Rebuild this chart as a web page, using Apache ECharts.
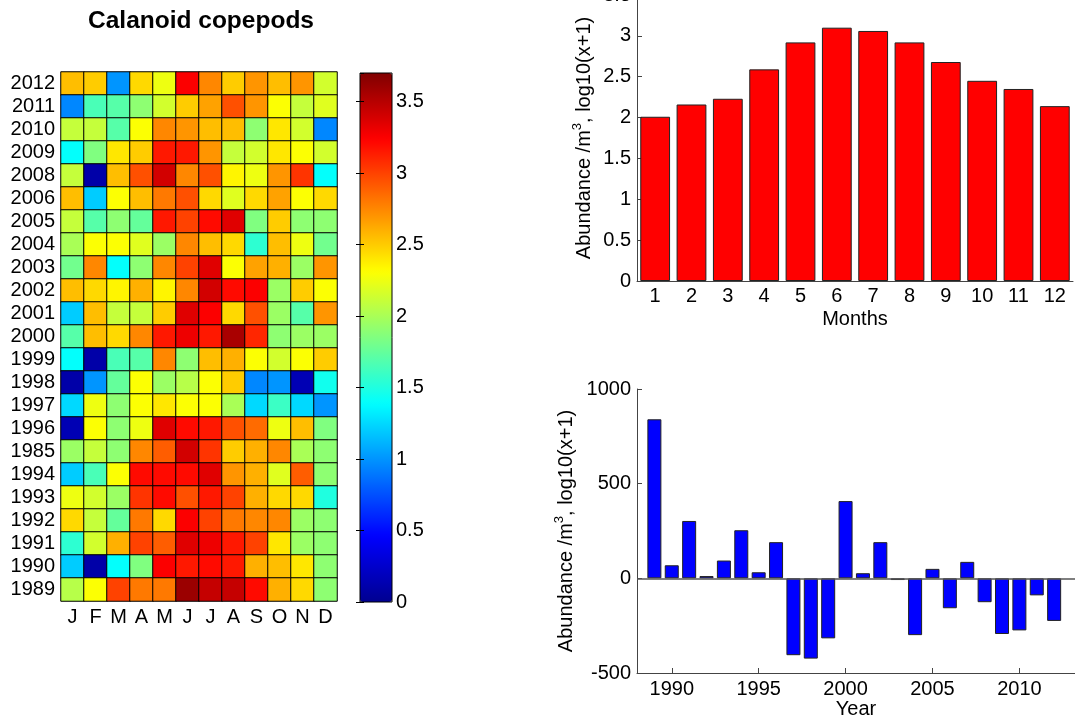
<!DOCTYPE html>
<html>
<head>
<meta charset="utf-8">
<title>Calanoid copepods</title>
<script src="https://cdn.jsdelivr.net/npm/echarts@6.0.0/dist/echarts.min.js"></script>
<style>
  html, body { margin: 0; padding: 0; background: #fff; }
  #main { width: 1075px; height: 721px; }
</style>
</head>
<body>
<div id="main"></div>
<script>
// heatmap rows, top to bottom as printed on the figure
var rowLabels = ['2012', '2011', '2010', '2009', '2008', '2006', '2005', '2004', '2003', '2002', '2001', '2000',
  '1999', '1998', '1997', '1996', '1985', '1994', '1993', '1992', '1991', '1990', '1989'];
var monthLetters = ['J', 'F', 'M', 'A', 'M', 'J', 'J', 'A', 'S', 'O', 'N', 'D'];

// log10(x+1) abundance, one row per year label above
var cellRows = [
  [2.55, 2.5, 1.0, 2.45, 2.25, 3.25, 2.75, 2.5, 2.7, 2.55, 2.7, 2.15],
  [0.95, 1.65, 1.7, 1.9, 2.15, 2.5, 2.65, 2.95, 2.7, 2.3, 2.1, 2.2],
  [2.1, 2.1, 1.7, 2.3, 2.75, 2.7, 2.55, 2.55, 1.9, 2.4, 2.15, 0.95],
  [1.4, 1.85, 2.4, 2.5, 3.15, 3.15, 2.7, 2.1, 2.15, 2.4, 2.3, 2.15],
  [2.1, 0.1, 2.55, 2.95, 3.4, 2.75, 2.95, 2.35, 2.25, 2.7, 3.05, 1.4],
  [2.55, 1.2, 2.3, 2.55, 2.8, 2.95, 2.45, 2.2, 2.45, 2.65, 2.3, 2.45],
  [2.1, 1.7, 1.9, 1.75, 3.15, 3.0, 3.2, 3.35, 1.85, 2.5, 1.9, 1.9],
  [2.0, 2.3, 2.3, 2.2, 1.95, 2.75, 2.55, 2.45, 1.55, 2.55, 2.25, 1.8],
  [1.8, 2.75, 1.4, 1.9, 2.75, 3.0, 3.35, 2.3, 2.65, 2.6, 1.95, 2.7],
  [2.55, 2.45, 2.35, 2.6, 2.35, 2.75, 3.4, 3.2, 3.25, 1.95, 2.5, 2.3],
  [1.2, 2.55, 2.1, 2.1, 2.5, 3.35, 3.25, 2.45, 2.95, 1.95, 1.7, 2.7],
  [1.7, 2.55, 2.45, 2.75, 3.15, 3.3, 3.15, 3.55, 3.1, 1.9, 1.95, 1.95],
  [1.4, 0.1, 1.65, 1.7, 2.75, 1.9, 2.55, 2.6, 2.3, 2.15, 2.3, 2.5],
  [0.1, 1.0, 1.75, 2.3, 1.95, 2.05, 2.3, 2.5, 0.95, 1.0, 0.15, 1.45],
  [1.25, 2.25, 1.9, 2.3, 2.4, 2.3, 2.3, 2.0, 1.25, 1.6, 1.25, 1.0],
  [0.15, 2.3, 1.9, 2.25, 3.35, 3.2, 3.15, 2.95, 2.85, 2.25, 2.55, 1.85],
  [1.95, 2.1, 1.9, 2.75, 2.9, 3.4, 3.05, 2.5, 2.6, 2.75, 2.0, 1.9],
  [1.2, 1.65, 2.3, 3.2, 3.2, 3.2, 3.35, 2.7, 2.6, 2.2, 2.9, 1.9],
  [2.25, 2.15, 1.95, 3.05, 3.2, 2.95, 3.15, 3.0, 2.6, 2.45, 2.45, 1.5],
  [2.45, 2.1, 1.75, 2.8, 2.45, 3.25, 3.0, 2.8, 2.75, 2.75, 1.95, 1.9],
  [1.55, 2.15, 2.6, 3.0, 2.9, 3.35, 3.3, 3.15, 3.0, 2.4, 1.95, 1.9],
  [1.2, 0.1, 1.4, 1.85, 3.25, 3.15, 3.2, 3.15, 2.6, 2.55, 2.4, 1.9],
  [2.05, 2.3, 3.0, 2.8, 2.8, 3.6, 3.45, 3.45, 3.2, 2.6, 2.45, 1.9]
];

// monthly mean (top right)
var monthNumbers = ['1', '2', '3', '4', '5', '6', '7', '8', '9', '10', '11', '12'];
var monthMeans = [2.01, 2.16, 2.23, 2.59, 2.92, 3.10, 3.06, 2.92, 2.68, 2.45, 2.35, 2.14];

// yearly anomaly (bottom right)
var years = [1989, 1990, 1991, 1992, 1993, 1994, 1995, 1996, 1997, 1998, 1999, 2000,
  2001, 2002, 2003, 2004, 2005, 2006, 2007, 2008, 2009, 2010, 2011, 2012];
var yearAnomaly = [840, 69, 303, 12, 94, 254, 32, 191, -406, -424, -317, 408,
  27, 191, -9, -300, 50, -158, 87, -126, -294, -275, -90, -225];

// matlab "jet"
var jet = ['#000090', '#0000ff', '#0080ff', '#00ffff', '#80ff80', '#ffff00', '#ff8000', '#ff0000', '#800000'];

var heatData = [];
cellRows.forEach(function (row, r) {
  row.forEach(function (v, c) { heatData.push([c, r, v]); });
});

var font = 'Liberation Sans, Arial, sans-serif';
var axisGrey = '#444';
var plain = function (v) { return String(v); };
var yName = '{t|Abundance /m}{s|3}{t|, log10(x+1)}';
var yNameStyle = {
  fontFamily: font, fontSize: 20, color: '#000',
  rich: {
    t: { fontFamily: font, fontSize: 20, color: '#000', lineHeight: 26 },
    s: { fontFamily: font, fontSize: 13, color: '#000', verticalAlign: 'top', lineHeight: 26 }
  }
};

var chart = echarts.init(document.getElementById('main'));

var option = {
  backgroundColor: '#fff',
  animation: false,
  textStyle: { fontFamily: font },
  title: {
    text: 'Calanoid copepods',
    left: 88, top: 9, padding: 0,
    textStyle: { fontFamily: font, fontSize: 24.5, fontWeight: 'bold', color: '#000' }
  },
  grid: [
    { left: 61, top: 72, width: 276, height: 529, outerBoundsMode: 'none' },
    { left: 360, top: 73, width: 32, height: 529, show: true, borderColor: '#000', borderWidth: 1,
      backgroundColor: 'transparent', z: 10, outerBoundsMode: 'none' },
    { left: 637, top: -5, width: 436, height: 286, outerBoundsMode: 'none' },
    { left: 637, top: 389, width: 438, height: 284, outerBoundsMode: 'none' }
  ],
  xAxis: [
    {
      gridIndex: 0, type: 'category', data: monthLetters,
      axisLine: { show: false }, axisTick: { show: false }, splitLine: { show: false },
      axisLabel: { color: '#000', fontSize: 20, margin: 6, interval: 0 }
    },
    { gridIndex: 1, type: 'value', min: 0, max: 1, show: false },
    {
      gridIndex: 2, type: 'category', data: monthNumbers,
      name: 'Months', nameLocation: 'middle', nameGap: 28,
      nameTextStyle: { fontFamily: font, fontSize: 20, color: '#000' },
      axisLine: { lineStyle: { color: axisGrey } },
      axisTick: { inside: true, alignWithLabel: true, length: 5, lineStyle: { color: axisGrey } },
      axisLabel: { color: '#000', fontSize: 20, margin: 5, interval: 0 }
    },
    {
      gridIndex: 3, type: 'value', min: 1988, max: 2013.2, splitNumber: 5,
      name: 'Year', nameLocation: 'middle', nameGap: 26,
      nameTextStyle: { fontFamily: font, fontSize: 20, color: '#000' },
      axisLine: { onZero: false, lineStyle: { color: axisGrey } },
      axisTick: { inside: true, length: 5, lineStyle: { color: axisGrey } },
      splitLine: { show: false },
      axisLabel: { color: '#000', fontSize: 20, margin: 6, showMinLabel: false, showMaxLabel: false,
        formatter: plain }
    }
  ],
  yAxis: [
    {
      gridIndex: 0, type: 'category', data: rowLabels, inverse: true,
      axisLine: { show: false }, axisTick: { show: false }, splitLine: { show: false },
      axisLabel: { color: '#000', fontSize: 20, margin: 6, interval: 0 }
    },
    {
      gridIndex: 1, type: 'value', position: 'right', min: 0, max: 3.7, interval: 0.5, z: 11,
      axisLine: { show: false },
      axisTick: { show: true, inside: true, length: 4, lineStyle: { color: '#000' } },
      splitLine: { show: false },
      axisLabel: { color: '#000', fontSize: 20, margin: 4, showMaxLabel: false, formatter: plain }
    },
    {
      gridIndex: 1, type: 'value', position: 'left', min: 0, max: 3.7, interval: 0.5, z: 11,
      axisLine: { show: false },
      axisTick: { show: true, inside: true, length: 4, lineStyle: { color: '#000' } },
      splitLine: { show: false },
      axisLabel: { show: false }
    },
    {
      gridIndex: 2, type: 'value', min: 0, max: 3.5, interval: 0.5,
      name: yName, nameLocation: 'middle', nameGap: 40, nameTextStyle: yNameStyle,
      axisLine: { show: true, lineStyle: { color: axisGrey } },
      axisTick: { show: true, inside: true, length: 5, lineStyle: { color: axisGrey } },
      splitLine: { show: false },
      axisLabel: { color: '#000', fontSize: 20, margin: 6, formatter: plain }
    },
    {
      gridIndex: 3, type: 'value', min: -500, max: 1000, interval: 500,
      name: yName, nameLocation: 'middle', nameGap: 58, nameTextStyle: yNameStyle,
      axisLine: { show: true, lineStyle: { color: axisGrey } },
      axisTick: { show: true, inside: true, length: 5, lineStyle: { color: axisGrey } },
      splitLine: { show: false },
      axisLabel: { color: '#000', fontSize: 20, margin: 6, formatter: plain }
    }
  ],
  visualMap: {
    type: 'continuous',
    seriesIndex: 0,
    min: 0, max: 3.7,
    calculable: false,
    orient: 'vertical',
    left: 360, top: 73,
    padding: 0,
    itemWidth: 32, itemHeight: 529,
    text: null,
    showLabel: false,
    hoverLink: false,
    inRange: { color: jet }
  },
  series: [
    {
      type: 'heatmap',
      xAxisIndex: 0, yAxisIndex: 0,
      data: heatData,
      itemStyle: { borderColor: '#000', borderWidth: 1 },
      emphasis: { disabled: true }
    },
    {
      type: 'bar',
      xAxisIndex: 2, yAxisIndex: 3,
      data: monthMeans,
      barCategoryGap: '18%',
      itemStyle: { color: '#ff0000', borderColor: '#222', borderWidth: 1 }
    },
    {
      type: 'bar',
      xAxisIndex: 3, yAxisIndex: 4,
      data: years.map(function (y, i) { return [y, yearAnomaly[i]]; }),
      barWidth: 14,
      itemStyle: { color: '#0000ff', borderColor: '#222', borderWidth: 1 },
      markLine: {
        silent: true, symbol: 'none',
        label: { show: false },
        lineStyle: { color: '#555', type: 'solid', width: 1.5 },
        data: [{ yAxis: 0 }]
      }
    }
  ]
};

chart.setOption(option);
</script>
</body>
</html>
